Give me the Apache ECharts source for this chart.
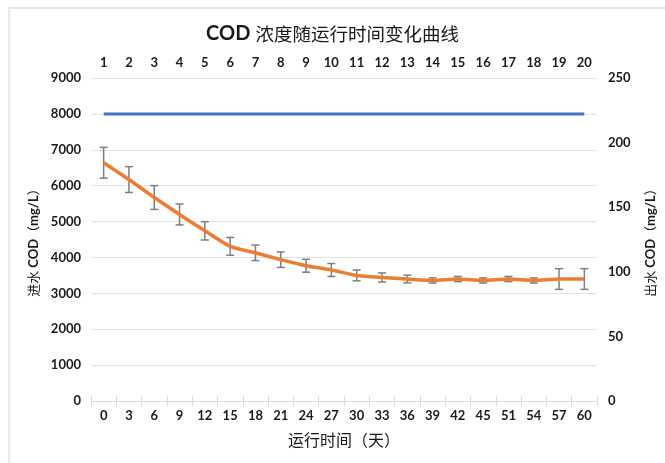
<!DOCTYPE html>
<html>
<head>
<meta charset="utf-8">
<script src="https://cdn.jsdelivr.net/npm/echarts@6/dist/echarts.min.js"></script>
<style>
  html, body { margin: 0; padding: 0; background: #fff; }
  #frame { position: absolute; left: 8px; top: 7px; width: 700px; height: 500px; border: 2px solid #e8e8e8; box-sizing: border-box; }
  #chart { position: absolute; left: 0; top: 0; width: 665px; height: 463px; }
</style>
</head>
<body>
<div id="frame"></div>
<div id="chart"></div>
<script>
// Bottom axis: operating time (days)
const days = ['0','3','6','9','12','15','18','21','24','27','30','33','36','39','42','45','51','54','57','60'];
// Top axis: sample number
const samples = ['1','2','3','4','5','6','7','8','9','10','11','12','13','14','15','16','17','18','19','20'];
// Influent COD (mg/L), left axis
const influentCOD = [8000,8000,8000,8000,8000,8000,8000,8000,8000,8000,8000,8000,8000,8000,8000,8000,8000,8000,8000,8000];
// Effluent COD (mg/L), right axis
const effluentCOD = [184.4,171.4,157.5,144.4,131.7,119.7,114.7,109.4,104.7,101.4,97.2,95.6,94.4,93.3,94.4,93.3,94.4,93.3,94.4,94.4];
// Effluent COD error (±, mg/L)
const effluentErr = [11.9,10.0,9.2,8.1,7.1,6.9,6.0,6.0,5.0,5.0,4.2,3.5,3.0,2.0,2.0,2.0,2.0,2.0,8.0,8.0];
// Axis tick labels
const leftTicks = [0,1000,2000,3000,4000,5000,6000,7000,8000,9000];
const rightTicks = [0,50,100,150,200,250];

const errData = days.map((d, i) => [i, effluentCOD[i] - effluentErr[i], effluentCOD[i] + effluentErr[i]]);

const labelFont = { fontFamily: 'Lato', fontWeight: 'bold', fontSize: 13, color: '#1a1a1a' };
const nameRich = {
  c: { fontFamily: 'Noto Sans CJK SC', fontSize: 13, color: '#1a1a1a' },
  b: { fontFamily: 'Lato', fontWeight: 'bold', fontSize: 13, color: '#1a1a1a' }
};

const chart = echarts.init(document.getElementById('chart'));
chart.setOption({
  animation: false,
  backgroundColor: 'transparent',
  title: {
    text: '{b|COD} {n|浓度随运行时间变化曲线}',
    left: 'center',
    top: 19,
    textStyle: {
      rich: {
        b: { fontFamily: 'Lato', fontWeight: 'bold', fontSize: 20, color: '#1a1a1a' },
        n: { fontFamily: 'Noto Sans CJK SC', fontWeight: 'normal', fontSize: 18.5, color: '#1a1a1a' }
      }
    }
  },
  grid: { left: 91, right: 66, top: 78, bottom: 62 },
  xAxis: [
    {
      type: 'category',
      position: 'bottom',
      data: days,
      boundaryGap: true,
      axisLine: { show: true, lineStyle: { color: '#d9d9d9', width: 1 } },
      axisTick: { show: true, length: 5, lineStyle: { color: '#d9d9d9' } },
      axisLabel: Object.assign({ margin: 8, interval: 0 }, labelFont),
      name: '运行时间（天）',
      nameLocation: 'middle',
      nameGap: 31,
      nameTextStyle: { fontFamily: 'Noto Sans CJK SC', fontSize: 16, color: '#1a1a1a' }
    },
    {
      type: 'category',
      position: 'top',
      data: samples,
      boundaryGap: true,
      axisLine: { show: true, lineStyle: { color: '#d9d9d9', width: 1 } },
      axisTick: { show: true, length: 5, lineStyle: { color: '#d9d9d9' } },
      axisLabel: Object.assign({ margin: 9, interval: 0 }, labelFont)
    }
  ],
  yAxis: [
    {
      type: 'value',
      position: 'left',
      min: leftTicks[0],
      max: leftTicks[leftTicks.length - 1],
      interval: leftTicks[1] - leftTicks[0],
      axisLine: { show: false },
      axisTick: { show: false },
      splitLine: { show: true, lineStyle: { color: '#e3e3e3', width: 1 } },
      axisLabel: Object.assign({ margin: 10, formatter: v => String(v) }, labelFont),
      name: '{c|进水 }{b|COD}{c|（}{b|mg/L}{c|）}',
      nameLocation: 'middle',
      nameRotate: 90,
      nameGap: 45,
      nameTextStyle: { rich: nameRich }
    },
    {
      type: 'value',
      position: 'right',
      min: rightTicks[0],
      max: rightTicks[rightTicks.length - 1],
      interval: rightTicks[1] - rightTicks[0],
      axisLine: { show: false },
      axisTick: { show: false },
      splitLine: { show: false },
      axisLabel: Object.assign({ margin: 11, formatter: v => String(v) }, labelFont),
      name: '{c|出水 }{b|COD}{c|（}{b|mg/L}{c|）}',
      nameLocation: 'middle',
      nameRotate: 90,
      nameGap: 47,
      nameTextStyle: { rich: nameRich }
    }
  ],
  series: [
    {
      name: '进水 COD',
      type: 'line',
      xAxisIndex: 1,
      yAxisIndex: 0,
      data: influentCOD,
      symbol: 'none',
      lineStyle: { color: '#4472C4', width: 3 },
      z: 3
    },
    {
      name: '误差',
      type: 'custom',
      xAxisIndex: 0,
      yAxisIndex: 1,
      data: errData,
      encode: { x: 0, y: [1, 2] },
      renderItem: function (params, api) {
        const idx = api.value(0);
        const lo = api.coord([idx, api.value(1)]);
        const hi = api.coord([idx, api.value(2)]);
        const w = 4;
        const style = { stroke: '#7f7f7f', lineWidth: 1.5, fill: null };
        return {
          type: 'group',
          children: [
            { type: 'line', shape: { x1: lo[0], y1: lo[1], x2: hi[0], y2: hi[1] }, style: style },
            { type: 'line', shape: { x1: lo[0] - w, y1: lo[1], x2: lo[0] + w, y2: lo[1] }, style: style },
            { type: 'line', shape: { x1: hi[0] - w, y1: hi[1], x2: hi[0] + w, y2: hi[1] }, style: style }
          ]
        };
      },
      z: 2
    },
    {
      name: '出水 COD',
      type: 'line',
      xAxisIndex: 0,
      yAxisIndex: 1,
      data: effluentCOD,
      symbol: 'none',
      smooth: 0.2,
      lineStyle: { color: '#ED7D31', width: 3.5 },
      z: 4
    }
  ]
});
</script>
</body>
</html>
